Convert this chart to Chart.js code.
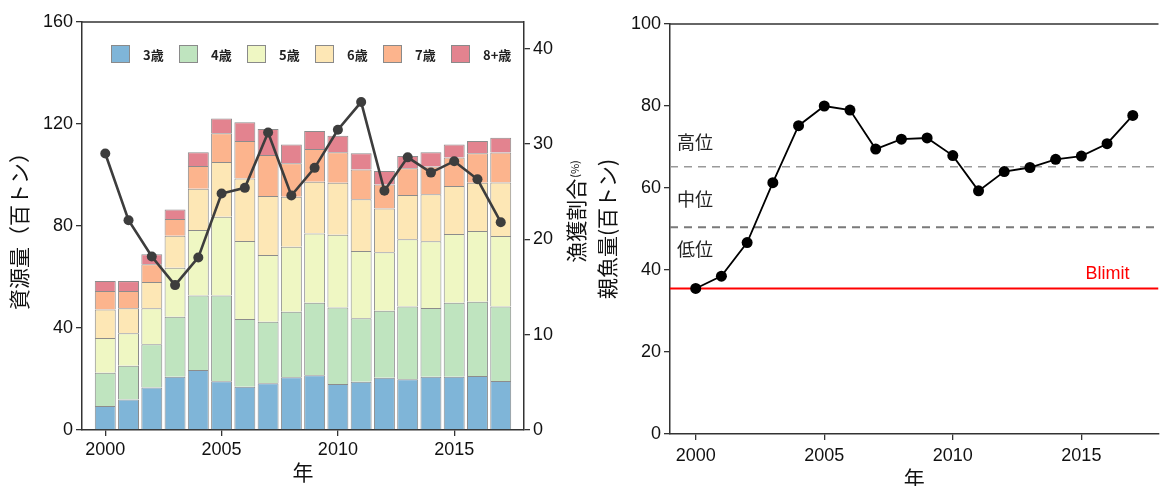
<!DOCTYPE html>
<html lang="ja">
<head>
<meta charset="utf-8">
<script src="https://cdn.jsdelivr.net/npm/chart.js@4/dist/chart.umd.min.js"></script>
<style>
html,body{margin:0;padding:0;background:#fff;}
#wrap{position:relative;width:1164px;height:486px;overflow:hidden;}
#c1{position:absolute;left:0;top:0;}
#c2{position:absolute;left:590px;top:0;}
</style>
</head>
<body>
<div id="wrap">
<canvas id="c1" width="590" height="486"></canvas>
<canvas id="c2" width="574" height="496"></canvas>
</div>
<script>
// 年
const years = [2000,2001,2002,2003,2004,2005,2006,2007,2008,2009,2010,2011,2012,2013,2014,2015,2016,2017];

// 年齢別資源量（百トン）
const ageLabels = ['3歳','4歳','5歳','6歳','7歳','8+歳'];
const age3  = [9.4,12.0,16.7,20.9,23.5,19.1,17.0,18.3,20.7,21.5,18.0,18.9,20.5,19.9,20.9,20.9,21.2,19.2];
const age4  = [13.1,13.2,16.9,23.5,29.2,33.6,26.5,24.2,25.7,28.4,30.0,24.9,26.3,28.5,26.9,29.0,29.1,29.2];
const age5  = [13.6,12.7,14.1,19.2,25.7,30.9,30.6,26.1,25.5,27.2,28.6,26.4,22.9,26.4,26.2,27.0,27.7,27.7];
const age6  = [11.2,9.8,10.3,12.6,16.2,21.5,24.5,23.2,19.6,20.3,20.4,20.3,17.2,17.4,18.5,18.8,19.0,21.0];
const age7  = [7.2,6.8,7.0,6.5,8.9,11.3,14.7,16.0,13.1,12.8,11.9,11.7,9.4,10.4,10.8,11.2,11.5,11.7];
const age8p = [3.9,3.9,3.9,3.8,5.4,5.8,7.4,10.2,7.4,7.1,6.5,6.3,5.3,4.9,5.6,5.1,4.8,5.8];

// 漁獲割合（%）
const harvestRate = [29.0,22.0,18.2,15.2,18.1,24.8,25.4,31.2,24.6,27.5,31.5,34.4,25.1,28.6,27.0,28.2,26.3,21.8];

// 親魚量（百トン）
const spawningBiomass = [35.5,38.5,46.7,61.3,75.2,80.0,79.0,69.5,71.9,72.2,67.9,59.3,64.0,65.0,67.0,67.8,70.8,77.7];

// 水準区分と限界管理基準値
const highMidBound = 65.2;
const midLowBound = 50.4;
const blimit = 35.5;
const zoneNames = ['高位','中位','低位'];
const zoneNameLevels = [71.3,57.4,45.2];
const blimitLabelLevel = 38.9;

// 目盛
const yearTicks = [2000,2005,2010,2015];
const biomassTicks = [0,40,80,120,160];
const rateTicks = [0,10,20,30,40];
const ssbTicks = [0,20,40,60,80,100];

const ageColors = ['#7fb5d8','#bfe4bf','#eff7c3','#fde7b5','#fcb48d','#e3838f'];
const AX = '#333';
const TICKF = '"Liberation Sans", Arial, sans-serif';
const CJK = '"Noto Sans CJK JP", sans-serif';

function fixTicks(list) {
  return s => { s.ticks = list.map(v => ({value: v})); };
}
function axisBase(extra) {
  return Object.assign({
    offset: false,
    grid: {drawOnChartArea: false, offset: false, color: AX, tickLength: 6, lineWidth: 1.3},
    border: {color: AX, width: 1.5},
    ticks: {color: '#111', font: {family: TICKF, size: 18}, padding: 3, autoSkip: false, maxRotation: 0,
            callback: v => String(v)}
  }, extra);
}

// 枠の上辺
const topFrame = {
  id: 'topFrame',
  afterDraw(chart) {
    const {ctx, chartArea: a} = chart;
    ctx.save();
    ctx.strokeStyle = AX;
    ctx.lineWidth = 1.5;
    ctx.beginPath();
    ctx.moveTo(a.left, a.top);
    ctx.lineTo(a.right, a.top);
    ctx.stroke();
    ctx.restore();
  }
};

// グラフ内の凡例
const insideLegend = {
  id: 'insideLegend',
  afterDraw(chart) {
    const {ctx, chartArea: a} = chart;
    const bars = chart.data.datasets.filter(d => d.type !== 'line');
    const x0 = a.left + 29, y0 = a.top + 23;
    ctx.save();
    bars.forEach((d, i) => {
      const x = x0 + i * 68;
      ctx.fillStyle = d.backgroundColor;
      ctx.fillRect(x, y0, 19, 18);
      ctx.strokeStyle = '#8a8a8a';
      ctx.lineWidth = 1;
      ctx.strokeRect(x + 0.5, y0 + 0.5, 18, 17);
      ctx.fillStyle = '#222';
      ctx.font = 'bold 13px ' + CJK;
      ctx.textBaseline = 'middle';
      ctx.textAlign = 'left';
      ctx.fillText(d.label, x + 32, y0 + 10);
    });
    ctx.restore();
  }
};

// 右軸の題（「(%)」は小さく）
const rateTitle = {
  id: 'rateTitle',
  afterDraw(chart) {
    const {ctx} = chart;
    const s = chart.scales.y1;
    const x = s.right - 14;
    const cy = (s.top + s.bottom) / 2 - 14;
    const main = '漁獲割合', sub = '(%)';
    ctx.save();
    ctx.fillStyle = '#111';
    ctx.textBaseline = 'middle';
    ctx.textAlign = 'left';
    ctx.font = '21px ' + CJK;
    const w1 = ctx.measureText(main).width;
    ctx.font = '11px ' + CJK;
    const w2 = ctx.measureText(sub).width;
    ctx.translate(x, cy);
    ctx.rotate(-Math.PI / 2);
    const start = -(w1 + w2) / 2;
    ctx.font = '21px ' + CJK;
    ctx.fillText(main, start, 0);
    ctx.font = '11px ' + CJK;
    ctx.fillText(sub, start + w1 + 1, -1);
    ctx.restore();
  }
};

new Chart(document.getElementById('c1'), {
  type: 'bar',
  data: {
    labels: years,
    datasets: [
      {type: 'line', label: '漁獲割合', data: harvestRate, yAxisID: 'y1', order: 0,
       borderColor: '#3d3d3d', borderWidth: 2.6, pointRadius: 5, pointBackgroundColor: '#3d3d3d',
       pointBorderWidth: 0, tension: 0},
      ...[age3, age4, age5, age6, age7, age8p].map((vals, i) => ({
        label: ageLabels[i], data: vals, yAxisID: 'y', stack: 'age', order: 1,
        backgroundColor: ageColors[i], borderColor: '#8c8c8c', borderWidth: 1,
        categoryPercentage: 0.9, barPercentage: 1
      }))
    ]
  },
  options: {
    responsive: false,
    animation: false,
    devicePixelRatio: 1,
    layout: {padding: {top: 22, left: 0, right: 0, bottom: 0}},
    plugins: {legend: {display: false}, tooltip: {enabled: false}},
    scales: {
      x: axisBase({
        type: 'linear', min: 1999, max: 2018, stacked: true, position: 'bottom',
        afterBuildTicks: fixTicks(yearTicks),
        afterFit: s => { s.height = 56; },
        ticks: {color: '#111', font: {family: TICKF, size: 18}, padding: 3, autoSkip: false, maxRotation: 0,
                callback: v => String(v)},
        title: {display: true, text: '年', color: '#111', font: {family: CJK, size: 21}, padding: {top: 0, bottom: 1}}
      }),
      y: axisBase({
        type: 'linear', min: 0, max: 160, stacked: true, position: 'left',
        afterBuildTicks: fixTicks(biomassTicks),
        afterFit: s => { s.width = 82; },
        title: {display: true, text: '資源量（百トン）', color: '#111', font: {family: CJK, size: 21}, padding: {top: 6, bottom: 0}}
      }),
      y1: axisBase({
        type: 'linear', min: 0, max: 42.8, position: 'right',
        afterBuildTicks: fixTicks(rateTicks),
        afterFit: s => { s.width = 66; }
      })
    }
  },
  plugins: [topFrame, insideLegend, rateTitle]
});

// 水準の文字と Blimit の文字
const zoneText = {
  id: 'zoneText',
  afterDraw(chart) {
    const {ctx, chartArea: a} = chart;
    const ys = chart.scales.y;
    ctx.save();
    ctx.textBaseline = 'middle';
    ctx.fillStyle = '#222';
    ctx.textAlign = 'left';
    ctx.font = '18px ' + CJK;
    zoneNames.forEach((t, i) => ctx.fillText(t, a.left + 7, ys.getPixelForValue(zoneNameLevels[i])));
    ctx.fillStyle = '#ff0000';
    ctx.textAlign = 'right';
    ctx.font = '18px ' + TICKF;
    ctx.fillText('Blimit', a.right - 29, ys.getPixelForValue(blimitLabelLevel));
    ctx.restore();
  }
};

const span = v => [{x: 1999, y: v}, {x: 2018, y: v}];

new Chart(document.getElementById('c2'), {
  type: 'line',
  data: {
    labels: years,
    datasets: [
      {label: '親魚量', data: spawningBiomass, order: 0, borderColor: '#000', borderWidth: 1.8,
       pointRadius: 5.5, pointBackgroundColor: '#000', pointBorderWidth: 0, tension: 0},
      {label: '高位/中位', data: span(highMidBound), order: 2, borderColor: '#9a9a9a', borderWidth: 1.4,
       borderDash: [8, 6], pointRadius: 0},
      {label: '中位/低位', data: span(midLowBound), order: 2, borderColor: '#7a7a7a', borderWidth: 2,
       borderDash: [8, 6], pointRadius: 0},
      {label: 'Blimit', data: span(blimit), order: 1, borderColor: '#ff0000', borderWidth: 2, pointRadius: 0}
    ]
  },
  options: {
    responsive: false,
    animation: false,
    devicePixelRatio: 1,
    layout: {padding: {top: 24, left: 0, right: 0, bottom: 0}},
    plugins: {legend: {display: false}, tooltip: {enabled: false}},
    scales: {
      x: axisBase({
        type: 'linear', min: 1999, max: 2018, position: 'bottom',
        afterBuildTicks: fixTicks(yearTicks),
        afterFit: s => { s.height = 62; },
        ticks: {color: '#111', font: {family: TICKF, size: 18}, padding: 5, autoSkip: false, maxRotation: 0,
                callback: v => String(v)},
        title: {display: true, text: '年', color: '#111', font: {family: CJK, size: 21}, padding: {top: 0, bottom: 5}}
      }),
      y: axisBase({
        type: 'linear', min: 0, max: 100, position: 'left',
        afterBuildTicks: fixTicks(ssbTicks),
        afterFit: s => { s.width = 80; },
        title: {display: true, text: '親魚量(百トン)', color: '#111', font: {family: CJK, size: 21}, padding: {top: 4, bottom: 0}}
      })
    }
  },
  plugins: [topFrame, zoneText]
});
</script>
</body>
</html>
